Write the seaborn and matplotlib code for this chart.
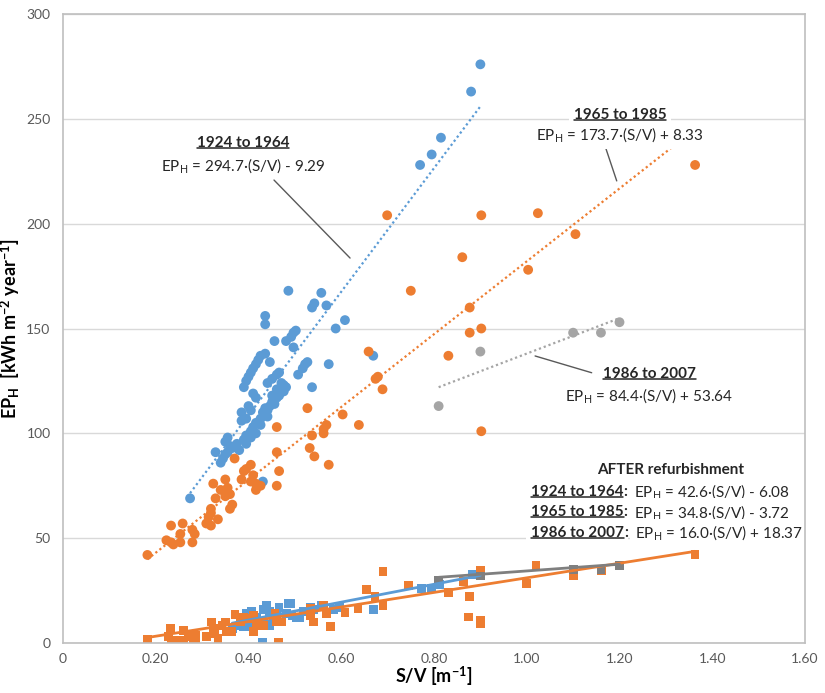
import numpy as np
import pandas as pd
import matplotlib
matplotlib.use("Agg")
import matplotlib.pyplot as plt
import seaborn as sns
from matplotlib.lines import Line2D

sns.set_theme(style="white")
plt.rcParams["font.family"] = ["Lato", "DejaVu Sans"]
plt.rcParams["mathtext.fontset"] = "custom"
plt.rcParams["mathtext.rm"] = "Lato"
plt.rcParams["mathtext.bf"] = "Lato:bold"
plt.rcParams["mathtext.it"] = "Lato:italic"

# ---- data ----
periods = ["1924 to 1964", "1965 to 1985", "1986 to 2007"]

# before refurbishment (circles)
b1924_x = [0.90, 0.88, 0.815, 0.795, 0.77, 0.486, 0.557, 0.542, 0.537, 0.568, 0.436, 0.436, 0.608, 0.588, 0.502,
           0.497, 0.492, 0.456, 0.481, 0.497, 0.436, 0.426, 0.421, 0.416, 0.41, 0.405, 0.40, 0.395, 0.39, 0.446,
           0.466, 0.461, 0.451, 0.441, 0.527, 0.522, 0.517, 0.507, 0.573, 0.537, 0.481, 0.476, 0.466, 0.461, 0.451,
           0.446, 0.441, 0.431, 0.426, 0.416, 0.41, 0.405, 0.395, 0.39, 0.41, 0.416, 0.40, 0.405, 0.385, 0.395,
           0.385, 0.355, 0.35, 0.36, 0.365, 0.355, 0.35, 0.345, 0.34, 0.329, 0.431, 0.274, 0.669,
           0.436, 0.451, 0.461, 0.471, 0.426, 0.416, 0.405, 0.395, 0.441, 0.456, 0.476, 0.38, 0.375]
b1924_y = [276, 263, 241, 233, 228, 168, 167, 162, 160, 161, 156, 152, 154, 150, 149,
           148, 146, 144, 144, 141, 138, 137, 135, 133, 131, 129, 127, 125, 122, 134,
           129, 128, 126, 124, 134, 133, 131, 128, 133, 122, 122, 120, 118, 117, 115,
           113, 111, 110, 107, 105, 103, 101, 99, 97, 119, 117, 113, 111, 110, 107,
           106, 98, 96, 94, 93, 91, 90, 88, 86, 91, 77, 69, 137,
           112, 118, 121, 124, 104, 100, 98, 95, 108, 114, 123, 92, 95]

b1965_x = [1.363, 1.024, 0.902, 0.699, 1.105, 0.861, 1.003, 0.75, 0.877, 0.877, 0.902, 0.831, 0.902, 0.659,
           0.679, 0.674, 0.689, 0.527, 0.603, 0.638, 0.461, 0.568, 0.562, 0.562, 0.537, 0.532, 0.542, 0.573,
           0.461, 0.466, 0.461, 0.37, 0.405, 0.395, 0.39, 0.41, 0.405, 0.416, 0.426, 0.416, 0.385, 0.324,
           0.35, 0.34, 0.355, 0.36, 0.35, 0.365, 0.36, 0.329, 0.319, 0.319, 0.314, 0.334, 0.309, 0.319,
           0.258, 0.233, 0.279, 0.253, 0.284, 0.279, 0.253, 0.233, 0.223, 0.238, 0.182]
b1965_y = [228, 205, 204, 204, 195, 184, 178, 168, 160, 148, 150, 137, 101, 139,
           127, 126, 121, 112, 109, 104, 103, 104, 102, 100, 99, 93, 89, 85,
           91, 82, 75, 88, 85, 83, 82, 80, 77, 76, 75, 73, 78, 76,
           78, 73, 74, 71, 70, 66, 64, 69, 64, 62, 60, 59, 57, 56,
           57, 56, 54, 52, 52, 48, 48, 48, 49, 47, 42]

b1986_x = [0.81, 0.90, 1.10, 1.16, 1.20]
b1986_y = [113, 139, 148, 148, 153]

# after refurbishment (squares)
a1924_x = [0.396, 0.406, 0.418, 0.432, 0.439, 0.446, 0.453, 0.436, 0.446, 0.425, 0.389, 0.382, 0.406,
           0.49, 0.482, 0.494, 0.504, 0.511, 0.518, 0.533, 0.54, 0.557, 0.583, 0.597, 0.669, 0.773,
           0.795, 0.813, 0.882, 0.90, 0.431, 0.485, 0.365, 0.466, 0.461]
a1924_y = [14, 15, 12, 16, 18, 15, 12, 9, 8.5, 10, 8, 8.5, 8,
           19, 14, 13, 12, 12, 15, 17, 16, 18, 16, 17, 16, 26,
           26, 28, 32.5, 33, 0.5, 19, 7, 17, 13]

a1965_x = [0.182, 0.231, 0.227, 0.234, 0.248, 0.259, 0.259, 0.271, 0.285, 0.285, 0.281, 0.31, 0.32,
           0.324, 0.327, 0.334, 0.343, 0.35, 0.353, 0.364, 0.371, 0.382, 0.389, 0.399, 0.41, 0.41,
           0.418, 0.432, 0.457, 0.461, 0.471, 0.533, 0.533, 0.54, 0.569, 0.561, 0.576, 0.608, 0.636,
           0.655, 0.673, 0.69, 0.69, 0.745, 0.831, 0.863, 0.874, 0.90, 0.90, 0.877, 0.90, 1.02,
           1.0, 1.10, 1.161, 1.363, 0.464]
a1965_y = [1.5, 7, 3, 1.3, 1.3, 6, 1.3, 3, 3.7, 0.5, 2, 3, 10,
           7, 4.5, 2, 8.5, 10, 5.3, 5.3, 13.5, 10, 12.4, 11.6, 13.3, 5.3,
           8.5, 8.5, 14, 10, 10, 16.4, 13.3, 10, 14, 18, 7.7, 14.5, 16.4,
           25.7, 22, 18, 34, 27.3, 24.1, 29.5, 12.4, 10.9, 9.2, 22, 34.8, 36.8,
           28.4, 32, 34.3, 42.3, 0.5]

a1986_x = [0.81, 0.90, 1.10, 1.16, 1.20]
a1986_y = [30, 32, 35, 35, 37]

# regression equations printed on the chart
before_slope = [294.7, 173.7, 84.4]
before_icpt = [-9.29, 8.33, 53.64]
after_slope = [42.6, 34.8, 16.0]
after_icpt = [-6.08, -3.72, 18.37]

x_ticks = [0, 0.2, 0.4, 0.6, 0.8, 1.0, 1.2, 1.4, 1.6]
x_ticklabels = ["0", "0.20", "0.40", "0.60", "0.80", "1.00", "1.20", "1.40", "1.60"]
y_ticks = [0, 50, 100, 150, 200, 250, 300]

colors = {"1924 to 1964": "#5B9BD5", "1965 to 1985": "#ED7D31", "1986 to 2007": "#A5A5A5"}
colors_after = {"1924 to 1964": "#5B9BD5", "1965 to 1985": "#ED7D31", "1986 to 2007": "#7F7F7F"}

def make_df(xs, ys, stage):
    rows = []
    for p, x, y in zip(periods, xs, ys):
        rows.append(pd.DataFrame({"sv": x, "ep": y, "period": p, "stage": stage}))
    return pd.concat(rows, ignore_index=True)

df_before = make_df([b1924_x, b1965_x, b1986_x], [b1924_y, b1965_y, b1986_y], "before")
df_after = make_df([a1924_x, a1965_x, a1986_x], [a1924_y, a1965_y, a1986_y], "after")

fig = plt.figure(figsize=(8.25, 6.93), dpi=100)
ax = fig.add_axes([63 / 825, 1 - 643 / 693, (805 - 63) / 825, (643 - 14) / 693])

ax.yaxis.grid(True, color="#d9d9d9", linewidth=1)
ax.set_axisbelow(True)

sns.scatterplot(data=df_before, x="sv", y="ep", hue="period", palette=colors, marker="o",
                s=50, edgecolor="none", legend=False, ax=ax, zorder=3)
sns.scatterplot(data=df_after, x="sv", y="ep", hue="period", palette=colors_after, marker="s",
                s=40, edgecolor="none", legend=False, ax=ax, zorder=3)

# trend lines over each series' range
for i, p in enumerate(periods):
    sub = df_before[df_before.period == p]
    xs = np.array([sub.sv.min(), sub.sv.max()])
    ax.plot(xs, before_slope[i] * xs + before_icpt[i], ls=(0, (1, 1.3)), lw=1.6,
            color=colors[p], zorder=4)
    sub = df_after[df_after.period == p]
    xs = np.array([sub.sv.min(), sub.sv.max()])
    ax.plot(xs, after_slope[i] * xs + after_icpt[i], ls="-", lw=2, color=colors_after[p], zorder=4)

ax.set_xlim(0, 1.6)
ax.set_ylim(0, 300)
ax.set_xticks(x_ticks)
ax.set_xticklabels(x_ticklabels)
ax.set_yticks(y_ticks)
ax.tick_params(axis="y", length=0, labelsize=10, labelcolor="#595959", pad=9)
ax.tick_params(axis="x", length=0, labelsize=10, labelcolor="#595959", pad=7)
for s in ax.spines.values():
    s.set_color("#bfbfbf")
    s.set_linewidth(1.2)
    s.set_zorder(10)

ax.set_xlabel(r"S/V [m$^\mathbf{-1}$]", fontsize=13, fontweight="bold", color="black", labelpad=0)
ax.set_ylabel(r"EP$_\mathbf{H}$  [kWh m$^\mathbf{-2}$ year$^\mathbf{-1}$]", fontsize=13,
              fontweight="bold", color="black")
ax.yaxis.set_label_coords(-41 / 742, 0.5)

fig.canvas.draw()
renderer = fig.canvas.get_renderer()
inv_fig = fig.transFigure.inverted()
inv_ax = ax.transData.inverted()
fs = 11
box = dict(boxstyle="square,pad=0.3", facecolor="white", edgecolor="none")


def underline(t):
    bb = t.get_window_extent(renderer)
    (x0, y0), (x1, _) = inv_fig.transform([(bb.x0, bb.y0 + 2), (bb.x1, bb.y0 + 2)])
    fig.add_artist(Line2D([x0, x1], [y0, y0], color="#262626", lw=1.1, transform=fig.transFigure))


def eq_text(slope, icpt):
    sign = "+" if icpt >= 0 else "-"
    return "EP$_\\mathregular{H}$ = %.1f\u00b7(S/V) %s %.2f" % (slope, sign, abs(icpt))


# before labels
label_pos = [(0.388, 238.4, 227.9), (1.201, 251.8, 242.3), (1.264, 128.3, 117.8)]
for i, p in enumerate(periods):
    lx, ly, ey = label_pos[i]
    t = ax.text(lx, ly, p, ha="center", va="center", fontsize=fs, fontweight="bold",
                color="#262626", bbox=box, zorder=6)
    ax.text(lx, ey, eq_text(before_slope[i], before_icpt[i]), ha="center", va="center",
            fontsize=fs, color="#262626", bbox=box, zorder=6)
    fig.canvas.draw()
    underline(t)

# leader lines
leaders = [((0.455, 0.619), (220.8, 183.6)), ((1.171, 1.194), (235.6, 220.4)),
           ((1.018, 1.140), (136.9, 128.9))]
for lxs, lys in leaders:
    ax.plot(lxs, lys, color="#595959", lw=1, zorder=5)

# after refurbishment block
ax.text(1.311, 82.5, "AFTER refurbishment", ha="center", va="center", fontsize=fs,
        fontweight="bold", color="#262626", bbox=box, zorder=6)
after_rows = [72.2, 62.3, 52.6]
for i, p in enumerate(periods):
    t = ax.text(1.009, after_rows[i], p, ha="left", va="center", fontsize=fs, fontweight="bold",
                color="#262626", bbox=box, zorder=6)
    fig.canvas.draw()
    underline(t)
    bb = t.get_window_extent(renderer)
    cx = inv_ax.transform((bb.x1, bb.y0))[0]
    c = ax.text(cx, after_rows[i], ":", ha="left", va="center", fontsize=fs, fontweight="bold",
                color="#262626", zorder=7)
    fig.canvas.draw()
    bb = c.get_window_extent(renderer)
    ex = inv_ax.transform((bb.x1 + 7, bb.y0))[0]
    ax.text(ex, after_rows[i], eq_text(after_slope[i], after_icpt[i]), ha="left", va="center",
            fontsize=fs, color="#262626", bbox=box, zorder=6)

fig.savefig("out.png", dpi=100)
